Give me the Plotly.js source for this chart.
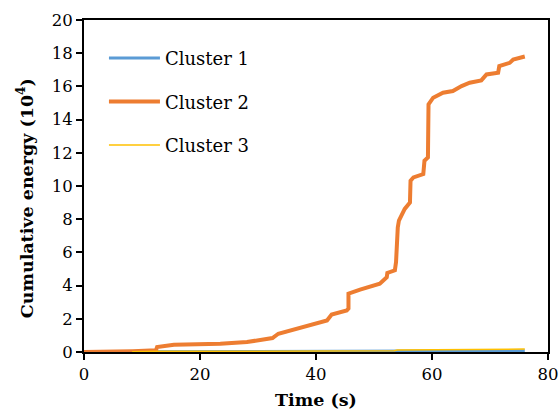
<!DOCTYPE html>
<html>
<head>
<meta charset="utf-8">
<script src="https://cdn.plot.ly/plotly-3.0.1.min.js"></script>
<style>html,body{margin:0;padding:0;background:#fff;}#chart{width:559px;height:414px;}</style>
</head>
<body>
<div id="chart"></div>
<script>
// Cluster 1 (blue)
const c1Time = [8.3, 20, 30, 45, 54, 65, 76];
const c1Energy = [0.01, 0.015, 0.02, 0.03, 0.04, 0.06, 0.08];
// Cluster 2 (orange)
const c2Time = [0, 8.3, 8.4, 12.4, 12.6, 15.5, 20, 23.5, 28.1, 31, 32.5, 33.5, 36.1, 39.5, 41.9, 42.7, 45.3, 45.6, 45.6, 47.6, 51, 52.2, 52.3, 53.6, 53.8, 54.1, 54.3, 55.3, 56.2, 56.3, 56.8, 58.5, 58.7, 59.3, 59.4, 60.2, 61.9, 63.6, 65.1, 66.5, 68.5, 69.4, 71.4, 71.6, 73.4, 74, 76];
const c2Energy = [0, 0, 0.05, 0.1, 0.3, 0.44, 0.46, 0.5, 0.6, 0.76, 0.84, 1.1, 1.34, 1.7, 1.9, 2.26, 2.5, 2.62, 3.52, 3.76, 4.12, 4.5, 4.76, 4.92, 5.42, 7.5, 7.92, 8.62, 9.0, 10.32, 10.52, 10.72, 11.52, 11.72, 14.92, 15.32, 15.62, 15.72, 16.02, 16.22, 16.36, 16.72, 16.82, 17.22, 17.42, 17.62, 17.8];
// Cluster 3 (yellow)
const c3Time = [8.3, 12.6, 30, 53.5, 54, 65, 76];
const c3Energy = [0.02, 0.04, 0.05, 0.07, 0.12, 0.15, 0.18];

const names = ['Cluster 1', 'Cluster 2', 'Cluster 3'];
const xTicks = [0, 20, 40, 60, 80];
const yTicks = [0, 2, 4, 6, 8, 10, 12, 14, 16, 18, 20];

const FONT = 'DejaVu Serif, Liberation Serif, serif';

const traces = [
  {x: c1Time, y: c1Energy, name: names[0], legendgroup: 'g1', mode: 'lines', line: {color: '#5B9BD5', width: 3}},
  {x: c2Time, y: c2Energy, name: names[1], legendgroup: 'g2', mode: 'lines', line: {color: '#ED7D31', width: 4}},
  {x: c3Time, y: c3Energy, name: names[2], legendgroup: 'g3', mode: 'lines', line: {color: '#FFC000', width: 1.5}}
];

const layout = {
  width: 559, height: 414,
  margin: {l: 83.5, r: 11, t: 20, b: 62},
  paper_bgcolor: '#fff', plot_bgcolor: '#fff',
  font: {family: FONT, size: 16, color: '#000'},
  showlegend: true,
  legend: {
    x: 0.043, y: 0.94, xanchor: 'left', yanchor: 'top',
    font: {family: FONT, size: 18, color: '#000'},
    tracegroupgap: 17, itemwidth: 51, bgcolor: 'rgba(0,0,0,0)'
  },
  xaxis: {
    range: [0, 80], tickvals: xTicks, ticktext: xTicks.map(String),
    showgrid: false, zeroline: false,
    showline: true, mirror: true, linecolor: '#000', linewidth: 2,
    ticks: 'outside', ticklen: 6, tickwidth: 2, tickcolor: '#000',
    tickfont: {family: FONT, size: 16.5},
    title: {text: '<b>Time (s)</b>', font: {family: FONT, size: 17.5}, standoff: 11}
  },
  yaxis: {
    range: [0, 20], tickvals: yTicks, ticktext: yTicks.map(String),
    showgrid: false, zeroline: false,
    showline: true, mirror: true, linecolor: '#000', linewidth: 2,
    ticks: 'outside', ticklen: 6, tickwidth: 2, tickcolor: '#000',
    tickfont: {family: FONT, size: 16.5},
    title: {text: '<b>Cumulative energy (10<sup>4</sup>)\u00a0\u00a0\u00a0\u00a0</b>', font: {family: FONT, size: 17.5}, standoff: 14}
  }
};

Plotly.newPlot('chart', traces, layout, {displayModeBar: false, staticPlot: true});
</script>
</body>
</html>
